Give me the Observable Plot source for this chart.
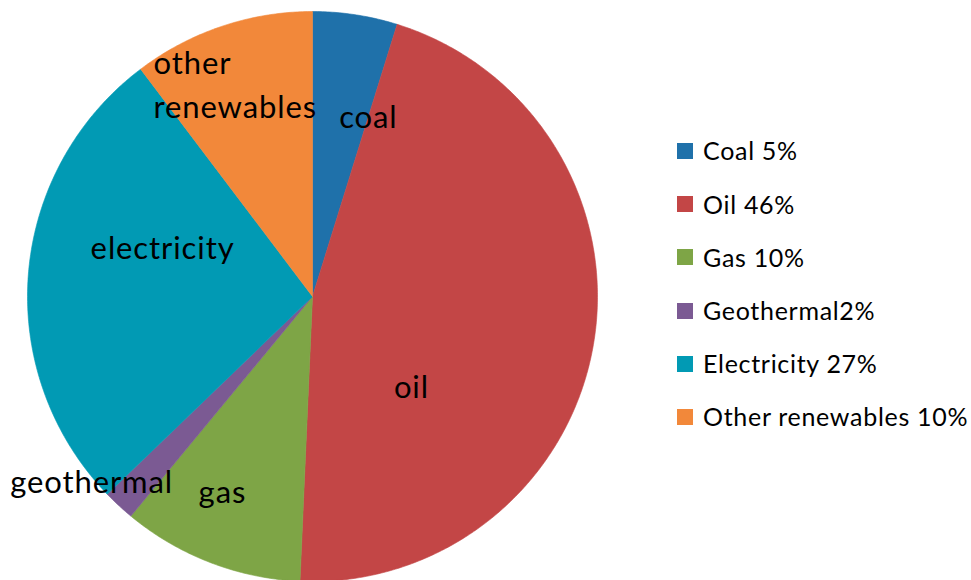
<!DOCTYPE html>
<html>
<head>
<meta charset="utf-8">
<script src="https://cdn.jsdelivr.net/npm/d3@7"></script>
<script src="https://cdn.jsdelivr.net/npm/@observablehq/plot@0.6"></script>
<style>
  html, body { margin: 0; padding: 0; background: #fff; }
  #wrap { position: relative; width: 971px; height: 580px; overflow: hidden; font-family: Lato, sans-serif; }
  #legend { position: absolute; left: 677px; top: 124.4px; }
  .row { display: flex; align-items: center; height: 53.2px; }
  .sw { width: 16px; height: 16px; margin-right: 10px; flex: none; }
  .lt { font-size: 25px; line-height: 25px; letter-spacing: 0.7px; color: #000; white-space: pre; }
</style>
</head>
<body>
<div id="wrap"><div id="chart"></div><div id="legend"></div></div>
<script>
// ---- data ----
const categories = ["coal", "oil", "gas", "geothermal", "electricity", "other renewables"];
const shares = [4.8, 45.9, 10.3, 1.8, 26.9, 10.3];
const legendLabels = ["Coal 5%", "Oil 46%", "Gas 10%", "Geothermal2%", "Electricity 27%", "Other renewables 10%"];
const colors = ["#1F71AA", "#C34646", "#7EA546", "#7B5A93", "#019AB4", "#F2883A"];
// slice label anchors in the unit-circle frame of the pie (annotation layout)
const labelX = [0.196, 0.347, -0.316, -0.775, -0.526, -0.558];
const labelY = [0.625, -0.323, -0.688, -0.656, 0.168, 0.752];
const labelText = ["coal", "oil", "gas", "geothermal", "electricity", "other\nrenewables"];
const labelAnchor = ["middle", "middle", "middle", "middle", "middle", "start"];

// ---- build slice outlines (angles clockwise from 12 o'clock) ----
const total = d3.sum(shares);
const slicePts = [];
let acc = 0;
categories.forEach((c, i) => {
  const a0 = acc / total * 2 * Math.PI;
  acc += shares[i];
  const a1 = acc / total * 2 * Math.PI;
  const n = Math.max(2, Math.ceil((a1 - a0) / (Math.PI / 360)));
  slicePts.push({key: c, x: 0, y: 0});
  for (let k = 0; k <= n; k++) {
    const a = a0 + (a1 - a0) * k / n;
    slicePts.push({key: c, x: Math.sin(a), y: Math.cos(a)});
  }
  slicePts.push({key: c, x: 0, y: 0});
});

const labels = categories.map((c, i) => ({x: labelX[i], y: labelY[i], text: labelText[i], anchor: labelAnchor[i]}));

const chart = Plot.plot({
  width: 971,
  height: 580,
  margin: 0,
  style: {fontFamily: "Lato, sans-serif", background: "white", overflow: "visible", letterSpacing: "0.9px"},
  x: {domain: [-1, 1], range: [27, 597], axis: null},
  y: {domain: [-1, 1], range: [581, 11], axis: null},
  color: {domain: categories, range: colors},
  marks: [
    Plot.line(slicePts, {x: "x", y: "y", z: "key", fill: "key", stroke: "key", strokeWidth: 0.6, curve: "linear"}),
    Plot.text(labels.filter(d => d.anchor === "middle"), {x: "x", y: "y", text: "text", fontSize: 31, fill: "black", textAnchor: "middle", lineAnchor: "middle"}),
    Plot.text(labels.filter(d => d.anchor === "start"), {x: "x", y: "y", text: "text", fontSize: 31, fill: "black", textAnchor: "start", lineAnchor: "middle", lineHeight: 1.42})
  ]
});
document.getElementById("chart").appendChild(chart);

const legend = document.getElementById("legend");
legendLabels.forEach((t, i) => {
  const row = document.createElement("div");
  row.className = "row";
  const sw = document.createElement("div");
  sw.className = "sw";
  sw.style.background = colors[i];
  const lt = document.createElement("div");
  lt.className = "lt";
  lt.textContent = t;
  row.appendChild(sw);
  row.appendChild(lt);
  legend.appendChild(row);
});
</script>
</body>
</html>
